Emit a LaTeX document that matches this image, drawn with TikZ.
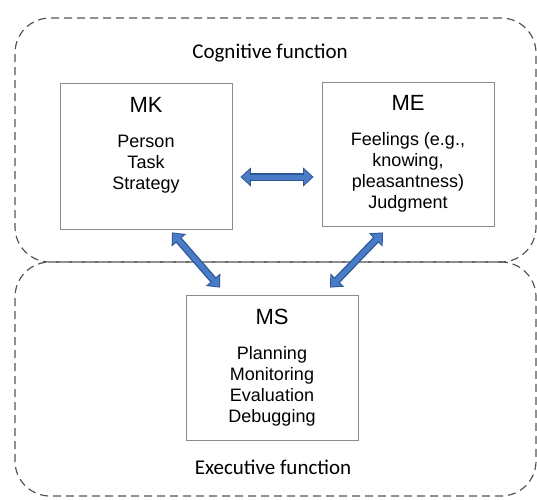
\documentclass[tikz,border=0pt]{standalone}
\usepackage{fontspec}
\setmainfont{Liberation Sans}
\newfontfamily\carlito{Carlito}
\usetikzlibrary{arrows.meta}
\definecolor{arrowFill}{HTML}{4A7BC6}
\definecolor{arrowEdge}{HTML}{2C5696}
\definecolor{regionGray}{HTML}{555555}
\definecolor{boxGray}{HTML}{8C8C8C}

\begin{document}
\begin{tikzpicture}[x=1pt, y=-1pt, every node/.style={font=\fontsize{18}{21}\selectfont},
  region/.style={draw=regionGray, line width=1.2pt, dash pattern=on 8pt off 5pt, rounded corners=35pt, minimum width=521pt},
  mbox/.style={draw=boxGray, line width=0.8pt, align=center, minimum width=172pt, inner sep=0pt},
  biarrow/.style={arrowFill, line width=5pt, {Triangle[width=14pt,length=8pt]}-{Triangle[width=14pt,length=8pt]}, shorten <=1.4pt, shorten >=1.4pt,
    preaction={draw=arrowEdge, line width=7.5pt, {Triangle[width=18.5pt,length=10.5pt]}-{Triangle[width=18.5pt,length=10.5pt]}, shorten <=0pt, shorten >=0pt}}]
  \useasboundingbox (0,0) rectangle (537,499);

  % the two functions
  \node[region, minimum height=244pt] (cog) at (275.5,140) {};
  \node[region, minimum height=234pt] (exec) at (275.5,379) {};
  \node[font=\carlito\fontsize{21}{24}\selectfont] (coglabel) at (270,53) {Cognitive function};
  \node[font=\carlito\fontsize{21}{24}\selectfont] (execlabel) at (273,467) {Executive function};

  % the three boxes
  \node[mbox, minimum height=146pt] (mk) at (146,156) {{\fontsize{22}{22}\selectfont MK}\\[14pt]Person\\Task\\Strategy\\[5pt]\mbox{}};
  \node[mbox, minimum height=144pt] (me) at (408,154) {{\fontsize{22}{22}\selectfont ME}\\[14pt]Feelings (e.g.,\\knowing,\\pleasantness)\\Judgment};
  \node[mbox, minimum height=145pt] (ms) at (272,367.5) {{\fontsize{22}{22}\selectfont MS}\\[14pt]Planning\\Monitoring\\Evaluation\\Debugging};

  \draw[biarrow] ([xshift=8pt,yshift=-21pt]mk.east) -- ([xshift=-8pt,yshift=-23pt]me.west);
  \draw[biarrow] ([xshift=26pt,yshift=-3pt]mk.south) -- ([xshift=-52pt,yshift=7pt]ms.north);
  \draw[biarrow] ([xshift=-25pt,yshift=-6pt]me.south) -- ([xshift=58pt,yshift=7pt]ms.north);
\end{tikzpicture}
\end{document}
